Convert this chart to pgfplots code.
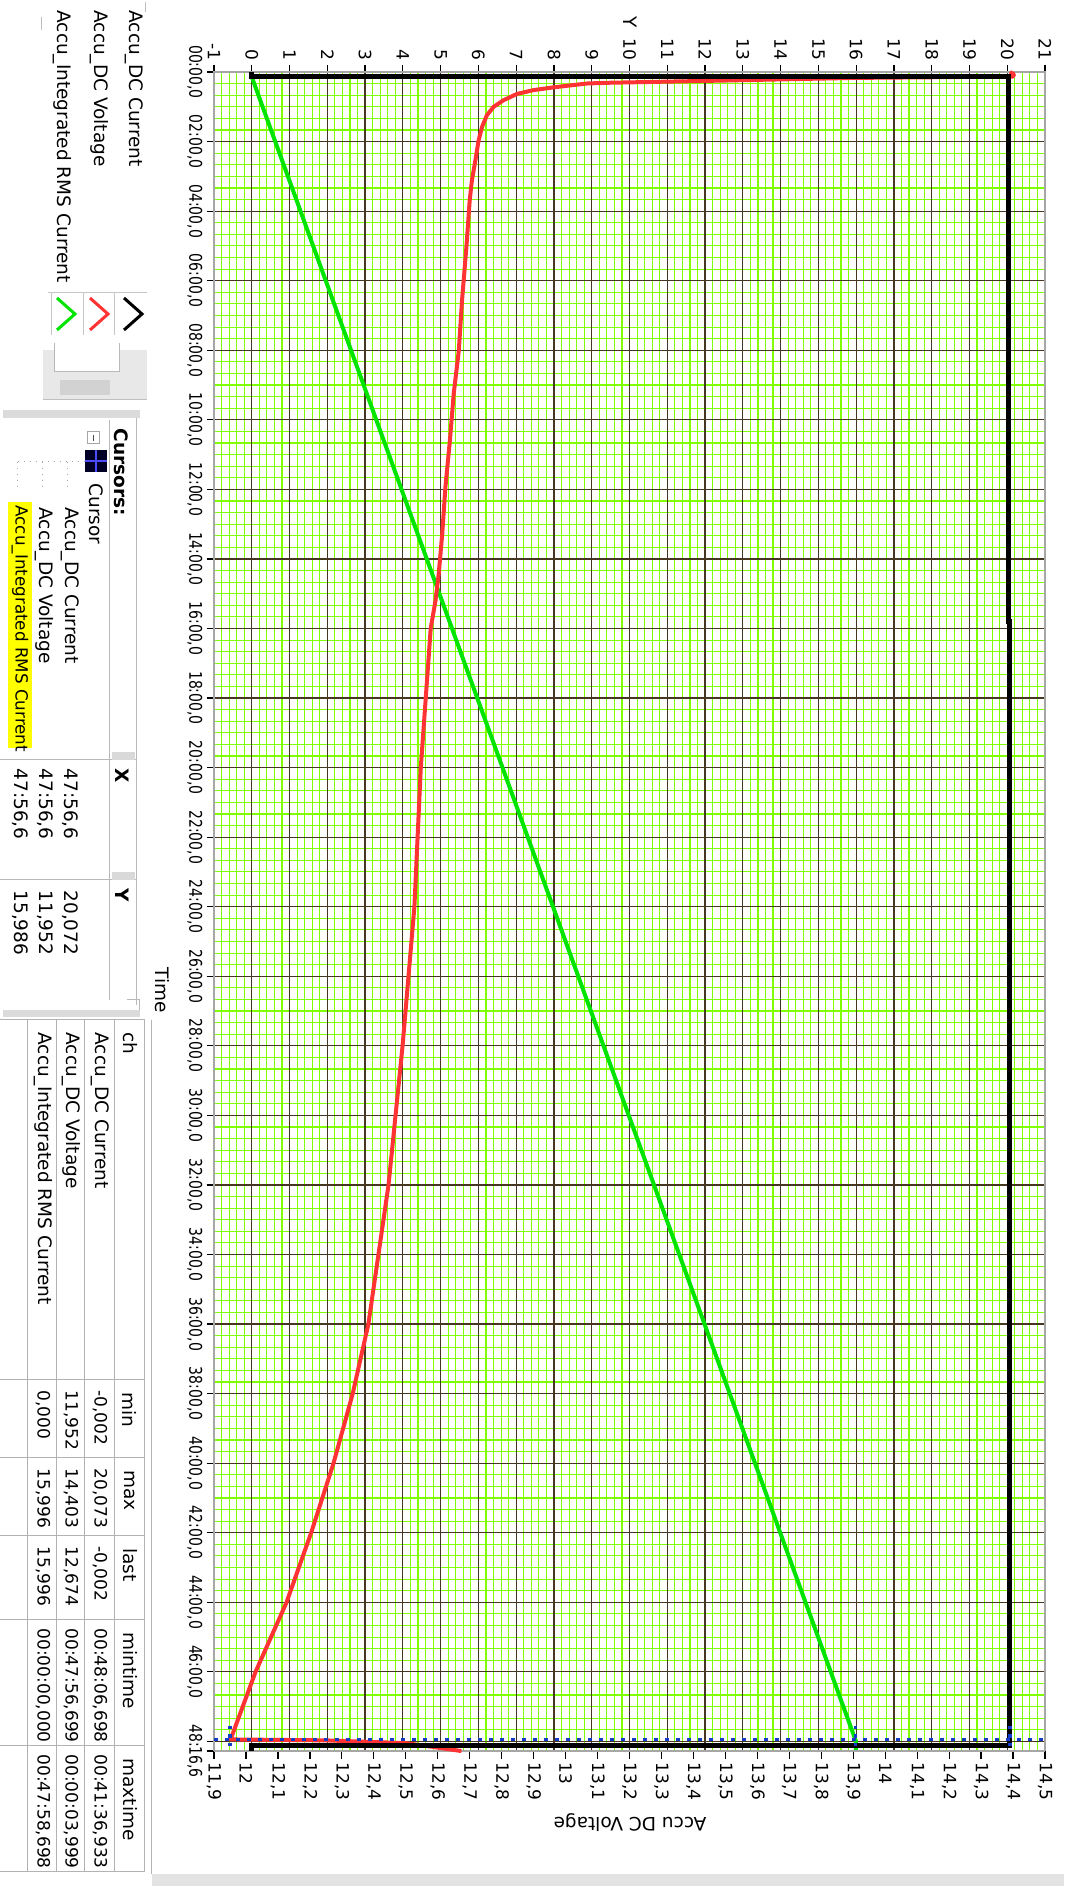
\documentclass[border=0pt]{standalone}
\usepackage{fontspec}
\setmainfont{DejaVu Sans}
\usepackage{pgfplots}
\pgfplotsset{compat=1.18}
\definecolor{gridmin}{RGB}{128,255,0}
\definecolor{gridmaj}{RGB}{70,55,35}
\definecolor{cred}{RGB}{255,51,51}
\definecolor{cgreen}{RGB}{0,228,0}
\definecolor{cblue}{RGB}{20,60,200}
\definecolor{hl}{RGB}{255,255,0}
\newcommand\lbl{\fontsize{7.4}{8}\selectfont}
\newcommand\tkl{\fontsize{6.8}{8}\selectfont}
\newcommand\nr[1]{\scalebox{0.8}[1]{#1}}
\pgfplotsset{
  base/.style={
    at={(251.8pt,-364.6pt)}, anchor=center,
    scale only axis, width=332.4pt, height=671.6pt,
    ymin=0, ymax=48.277, y dir=reverse,
    axis line style={draw=gray!70, line width=0.5pt},
    tick align=outside, major tick length=3pt, minor tick length=0pt,
    tick style={black, line width=0.5pt},
    /pgf/number format/assume math mode=true,
  },
  gridticks/.style={
    xtick={-1,0,...,21}, minor x tick num=4,
    ytick={0,2,...,48}, minor y tick num=5,
  }
}
\begin{document}
\begin{tikzpicture}
\useasboundingbox (0,0) rectangle (425.6pt,-754.4pt);
% ---- axis A: minor grid, Y ticks, time ticks
\begin{axis}[base, gridticks,
  xmin=-1, xmax=21,
  xticklabels={-1,0,1,2,3,4,5,6,7,8,9,10,11,12,13,14,15,16,17,18,19,20,21},
  xtick pos=right, xticklabel pos=right,
  yticklabels={{\nr{00:00,0}},{\nr{02:00,0}},{\nr{04:00,0}},{\nr{06:00,0}},{\nr{08:00,0}},{\nr{10:00,0}},{\nr{12:00,0}},{\nr{14:00,0}},{\nr{16:00,0}},{\nr{18:00,0}},{\nr{20:00,0}},{\nr{22:00,0}},{\nr{24:00,0}},{\nr{26:00,0}},{\nr{28:00,0}},{\nr{30:00,0}},{\nr{32:00,0}},{\nr{34:00,0}},{\nr{36:00,0}},{\nr{38:00,0}},{\nr{40:00,0}},{\nr{42:00,0}},{\nr{44:00,0}},{\nr{46:00,0}},{}},
  extra y ticks={48.277},
  extra y tick labels={{\nr{48:16,6}}},
  extra y tick style={grid=none},
  ytick pos=left, yticklabel pos=left,
  grid=minor,
  minor grid style={gridmin, line width=0.45pt},
  xticklabel style={rotate=-90, anchor=east, font=\tkl, inner sep=1.5pt},
  yticklabel style={rotate=-90, anchor=north, font=\fontsize{7}{8}\selectfont, inner sep=1.5pt},
]
\end{axis}
% ---- axis A2: major grid on top of the minor grid, green
\begin{axis}[base, gridticks,
  xmin=-1, xmax=21,
  xticklabels={}, yticklabels={},
  major tick length=0pt,
  grid=major,
  major grid style={gridmaj, line width=0.5pt},
]
\addplot[cgreen, line width=1.6pt] coordinates {(0,0.14) (5.0,15.1) (10.0,30.06) (15.996,48.0) (15.996,48.277)};
\end{axis}
% ---- axis B: voltage axis, red
\begin{axis}[base,
  xmin=11.9, xmax=14.5,
  axis y line=none, axis x line*=bottom,
  xtick={11.9,12,12.1,12.2,12.3,12.4,12.5,12.6,12.7,12.8,12.9,13,13.1,13.2,13.3,13.4,13.5,13.6,13.7,13.8,13.9,14,14.1,14.2,14.3,14.4,14.5},
  xticklabels={{11,9},12,{12,1},{12,2},{12,3},{12,4},{12,5},{12,6},{12,7},{12,8},{12,9},13,{13,1},{13,2},{13,3},{13,4},{13,5},{13,6},{13,7},{13,8},{13,9},14,{14,1},{14,2},{14,3},{14,4},{14,5}},
  xticklabel style={rotate=-90, anchor=west, font=\tkl, inner sep=1.5pt},
  clip=false,
]
\addplot[cred, line width=1.6pt, line join=round] coordinates {
(14.39,0.0) (14.403,0.067) (14.40,0.13) (13.9,0.17) (13.47,0.25) (13.13,0.31) (13.067,0.33)
(12.963,0.44) (12.90,0.52) (12.848,0.63) (12.806,0.81) (12.775,1.0) (12.754,1.24)
(12.739,1.57) (12.728,1.96) (12.718,2.53) (12.707,3.11) (12.70,3.69) (12.69,5.0)
(12.676,6.57) (12.666,8.0) (12.65,9.25) (12.638,10.6) (12.624,11.94) (12.614,13.29)
(12.603,14.44) (12.593,15.2) (12.578,16) (12.547,20) (12.527,24) (12.49,28) (12.446,32)
(12.383,36) (12.334,38) (12.274,40) (12.204,42) (12.127,44) (12.03,46) (11.952,47.943)
(12.25,47.97) (12.50,48.05) (12.55,48.112) (12.674,48.277)};
\end{axis}
% ---- axis C: black current and cursor
\begin{axis}[base, xmin=-1, xmax=21, hide axis, clip=false]
\addplot[black, line width=2pt, line join=miter] coordinates {
(0,0) (0,0.14) (20.03,0.14) (20.03,15.8) (20.07,15.8) (20.07,48.112) (0,48.112) (0,48.277)};
\addplot[cblue, line width=1.4pt, dash pattern=on 1.4pt off 3pt] coordinates {(-1,47.943) (21,47.943)};
\addplot[cblue, line width=1.4pt, dash pattern=on 1.4pt off 2pt] coordinates {(-0.58,47.55) (-0.58,48.277)};
\addplot[cblue, line width=1.4pt, dash pattern=on 1.4pt off 2pt] coordinates {(15.986,47.55) (15.986,48.277)};
\addplot[cblue, line width=1.4pt, dash pattern=on 1.4pt off 2pt] coordinates {(20.072,47.55) (20.072,48.277)};
\end{axis}
% ---- panels and titles (1 unit = 1 px of the reference)
\begin{scope}[x=0.4pt,y=-0.4pt, every node/.style={inner sep=0pt}]
 % axis titles
 \node[rotate=-90, font=\lbl] at (630,22) {Y};
 \node[rotate=-90, font=\lbl] at (162,990) {Time};
 \node[rotate=180, font=\lbl] at (630,1823) {Accu DC Voltage};
 % bottom bar and chart frame
 \fill[gray!22] (152,1874) rectangle (1064,1886);
 \draw[gray!60, line width=0.4pt] (152,1020) -- (152,1874);
 % legend
 \draw[gray!50] (146,2) -- (146,12);
 \draw[gray!50] (42,17) -- (42,30);
 \node[rotate=-90, anchor=west, font=\lbl] at (134,10) {Accu\_DC Current};
 \node[rotate=-90, anchor=west, font=\lbl] at (99,10) {Accu\_DC Voltage};
 \node[rotate=-90, anchor=west, font=\lbl] at (62,10) {Accu\_Integrated RMS Current};
 \draw[gray!45] (48,293) -- (147,293);
 \foreach \xx in {52,84,115} {\draw[gray!45] (\xx,293) -- (\xx,335);}
 \draw[black, line width=1.2pt] (124,298) -- (142,314) -- (124,330);
 \draw[cred, line width=1.2pt] (90,298) -- (108,314) -- (90,330);
 \draw[cgreen, line width=1.2pt] (57,298) -- (75,314) -- (57,330);
 % small scroll widget
 \fill[gray!18] (43,350) rectangle (147,400);
 \fill[white] (55,343) rectangle (120,372);
 \draw[gray!55] (55,343) -- (55,372) -- (120,372) -- (120,343);
 \fill[gray!35] (60,380) rectangle (110,395);
 \draw[gray!50] (43,400) -- (147,400);
 % separator
 \fill[gray!28] (3,410) rectangle (140,418);
 % cursor panel
 \draw[gray!55] (137,418) -- (137,1005);
 \draw[gray!55] (110,420) -- (110,1000);
 \draw[gray!55] (0,760) -- (137,760);
 \draw[gray!55] (0,880) -- (137,880);
 \fill[gray!30] (112,752) rectangle (135,760);
 \fill[gray!30] (112,872) rectangle (135,880);
 \node[rotate=-90, anchor=west, font=\lbl\bfseries] at (121,428) {Cursors:};
 \draw[gray!70] (88,432) rectangle (100,444);
 \draw[black!70] (94,435) -- (94,441);
 \fill[black!85!blue] (85,450) rectangle (107,472);
 \draw[blue!70!white, line width=0.5pt] (85,461) -- (107,461) (96,450) -- (96,472);
 \draw[gray!70, dotted] (18,462) -- (85,462);
 \draw[gray!70, dotted] (68,462) -- (68,492) (43,462) -- (43,492) (18,462) -- (18,492);
 \node[rotate=-90, anchor=west, font=\lbl] at (96,483) {Cursor};
 \node[rotate=-90, anchor=west, font=\lbl] at (70,507) {Accu\_DC Current};
 \node[rotate=-90, anchor=west, font=\lbl] at (44,507) {Accu\_DC Voltage};
 \fill[hl] (8,502) rectangle (32,748);
 \node[rotate=-90, anchor=west, font=\fontsize{6.7}{8}\selectfont] at (20,505) {Accu\_Integrated RMS Current};
 \node[rotate=-90, anchor=west, font=\lbl\bfseries] at (122,768) {X};
 \node[rotate=-90, anchor=west, font=\lbl\bfseries] at (122,888) {Y};
 \foreach \xx/\vv in {70/{20,072},45/{11,952},20/{15,986}} {
   \node[rotate=-90, anchor=west, font=\lbl] at (\xx,768) {47:56,6};
   \node[rotate=-90, anchor=west, font=\lbl] at (\xx,890) {\vv};
 }
 \draw[gray!55] (127,1000) -- (140,1000) -- (140,1013);
 % separator
 \fill[gray!28] (3,1010) rectangle (140,1017);
 % stats table
 \foreach \xx in {145,115,85,57,28} {\draw[gray!60] (\xx,1020) -- (\xx,1872);}
 \foreach \yy in {1020,1380,1458,1536,1620,1746,1872} {\draw[gray!60] (0,\yy) -- (145,\yy);}
 \node[rotate=-90, anchor=west, font=\lbl] at (130,1032) {ch};
 \node[rotate=-90, anchor=west, font=\lbl] at (130,1392) {min};
 \node[rotate=-90, anchor=west, font=\lbl] at (130,1470) {max};
 \node[rotate=-90, anchor=west, font=\lbl] at (130,1548) {last};
 \node[rotate=-90, anchor=west, font=\lbl] at (130,1632) {mintime};
 \node[rotate=-90, anchor=west, font=\lbl] at (130,1758) {maxtime};
 \node[rotate=-90, anchor=west, font=\lbl] at (100,1032) {Accu\_DC Current};
 \node[rotate=-90, anchor=west, font=\lbl] at (71,1032) {Accu\_DC Voltage};
 \node[rotate=-90, anchor=west, font=\lbl] at (43,1032) {Accu\_Integrated RMS Current};
 \foreach \xx/\a/\b/\c/\d/\e in {
   100/{-0,002}/{20,073}/{-0,002}/{00:48:06,698}/{00:41:36,933},
   71/{11,952}/{14,403}/{12,674}/{00:47:56,699}/{00:00:03,999},
   43/{0,000}/{15,996}/{15,996}/{00:00:00,000}/{00:47:58,698}} {
   \node[rotate=-90, anchor=west, font=\tkl] at (\xx,1390) {\a};
   \node[rotate=-90, anchor=west, font=\tkl] at (\xx,1468) {\b};
   \node[rotate=-90, anchor=west, font=\tkl] at (\xx,1546) {\c};
   \node[rotate=-90, anchor=west, font=\tkl] at (\xx,1628) {\d};
   \node[rotate=-90, anchor=west, font=\tkl] at (\xx,1754) {\e};
 }
\end{scope}
\end{tikzpicture}
\end{document}
